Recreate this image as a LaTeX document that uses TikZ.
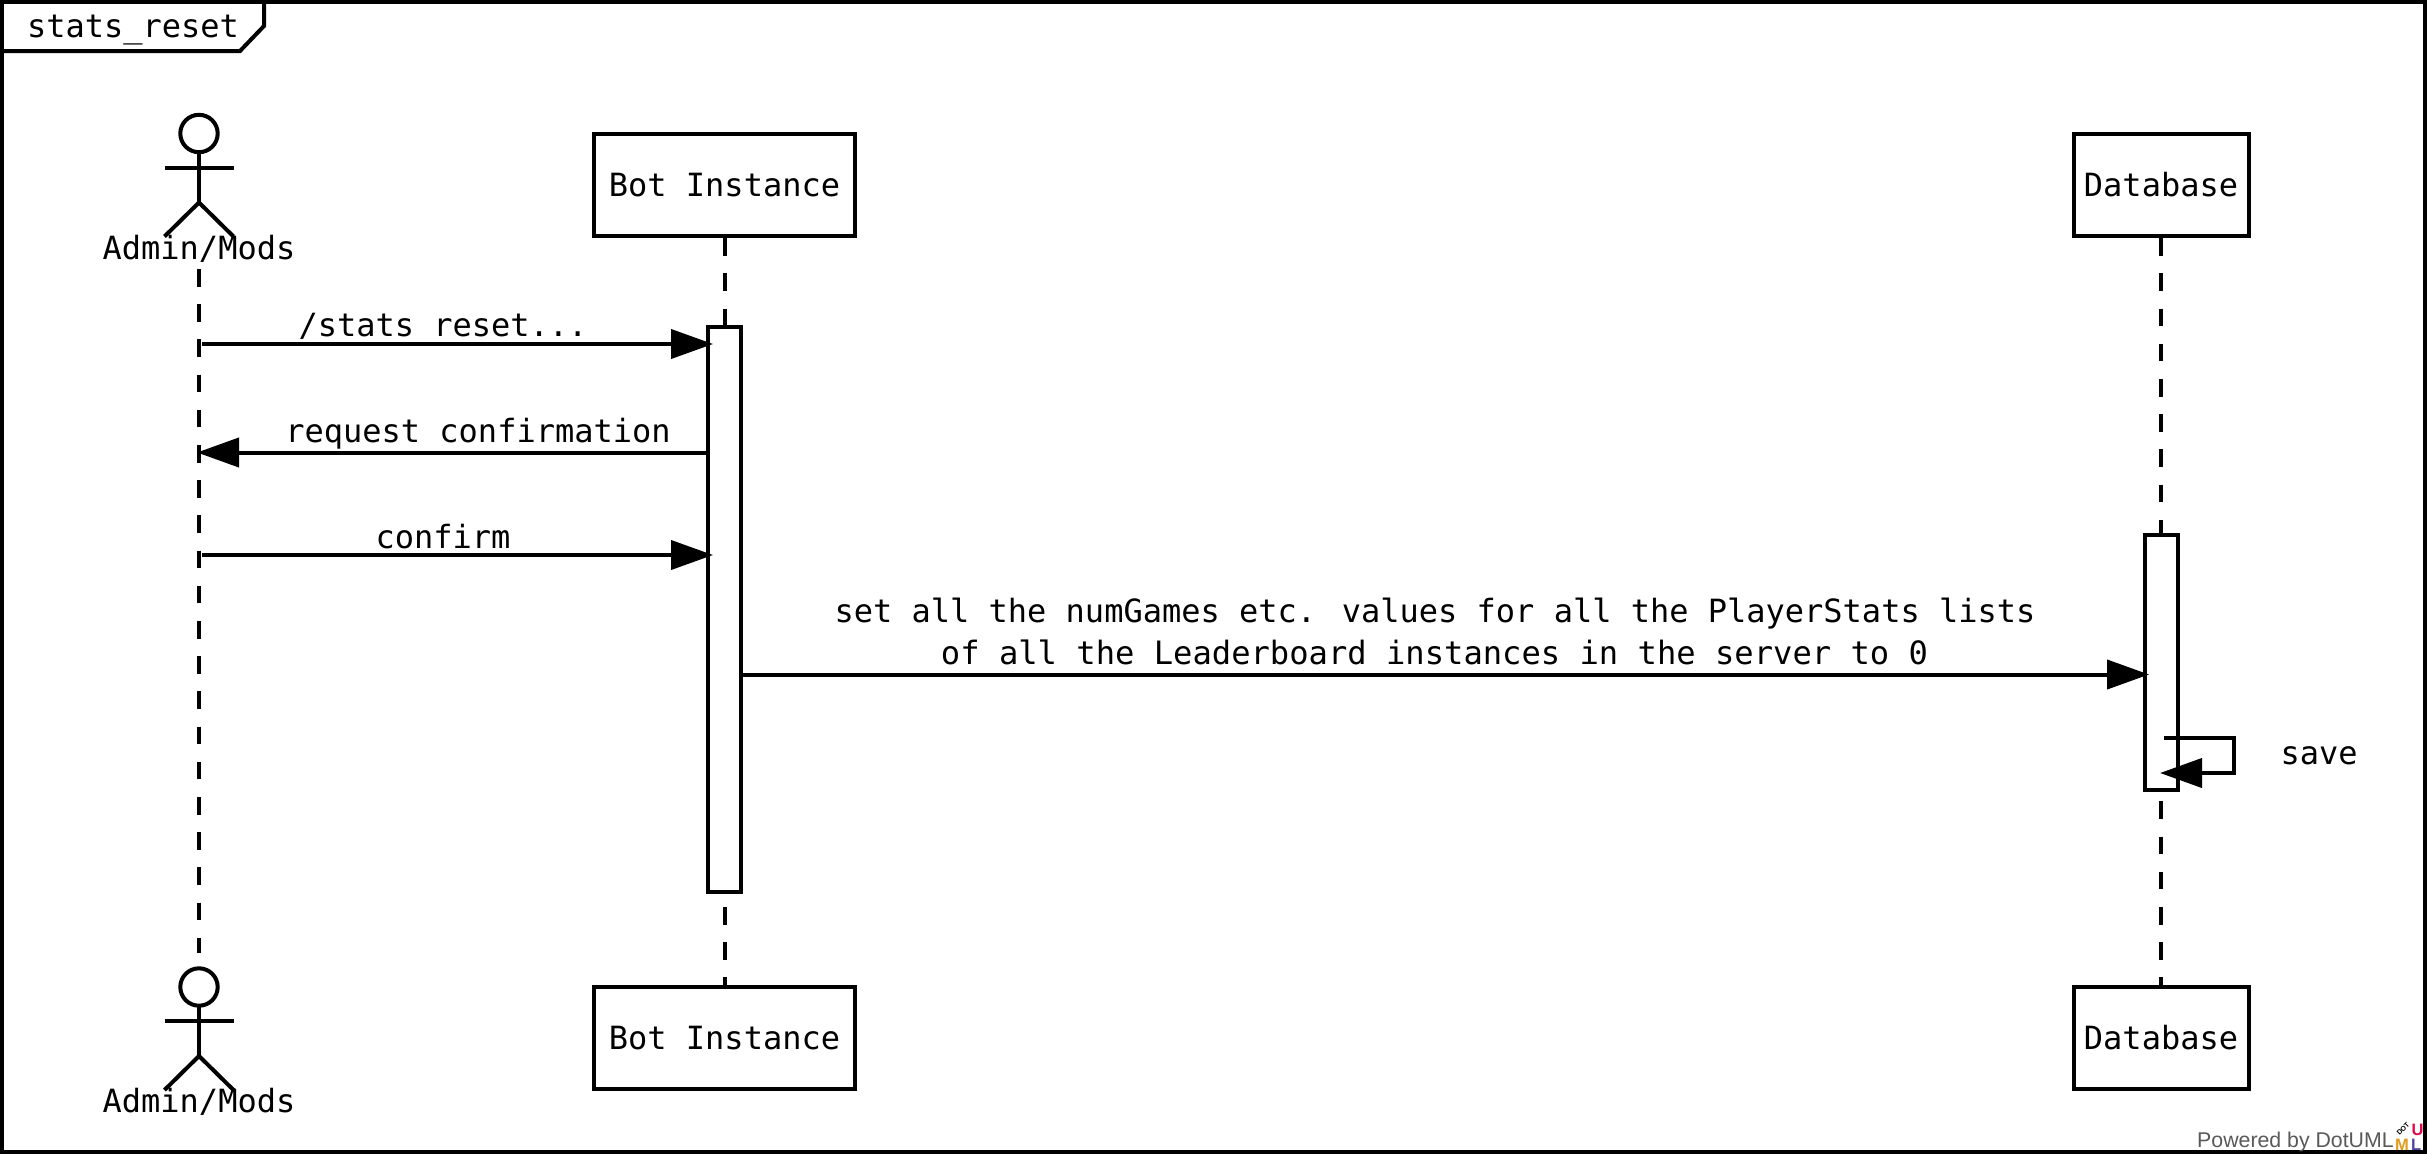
\documentclass[tikz,border=0pt]{standalone}
\usepackage{fontspec}
\setmainfont{DejaVu Sans Mono}
\newfontfamily\footfont{Liberation Sans}
\usetikzlibrary{arrows.meta,calc}
\tikzset{
 x=1pt,y=-1pt,
 ln/.style={line width=4pt,black,line cap=butt},
 box/.style={draw,ln,fill=white,inner sep=0pt,font=\fontsize{32}{40}\selectfont},
 act/.style={draw,ln,fill=white,inner sep=0pt,minimum width=33pt},
 lifeline/.style={ln,dash pattern=on 17.6pt off 17.6pt},
 msg/.style={ln,-{Triangle[length=42pt,width=29pt]}},
 lbl/.style={inner sep=0pt,anchor=base,font=\fontsize{32}{42}\selectfont,align=center},
 logo/.style={inner sep=0pt,anchor=base west,font=\footfont\bfseries\fontsize{16.5}{18}\selectfont},
}
\newcommand{\stick}[2]{%
 \draw[ln] (#1,#2) circle[radius=18.7];
 \draw[ln] (#1,#2+18.7) -- (#1,#2+69);
 \draw[ln] (#1-34.5,#2+34) -- (#1+34.5,#2+34);
 \draw[ln,line join=miter] (#1-34.5,#2+103) -- (#1,#2+69) -- (#1+34.5,#2+103);
}
\begin{document}
\begin{tikzpicture}
\useasboundingbox (0,0) rectangle (2427,1154);
\fill[white] (0,0) rectangle (2427,1154);
% participants
\node[box,minimum width=261pt,minimum height=102.5pt] (bot) at (724.5,185) {Bot Instance};
\node[box,minimum width=175pt,minimum height=102.5pt] (db) at (2161,185) {Database};
\node[box,minimum width=261pt,minimum height=102.5pt] (bot2) at (724.5,1038) {Bot Instance};
\node[box,minimum width=175pt,minimum height=102.5pt] (db2) at (2161,1038) {Database};
\coordinate (adminT) at (199,269);
\coordinate (adminB) at (199,953);
% lifelines
\draw[lifeline] (adminT) -- (adminB);
\draw[lifeline] (bot.south) -- (bot2.north);
\draw[lifeline] (db.south) -- (db2.north);
% activations
\node[act,minimum height=565pt] (botact) at (724.5,609.5) {};
\node[act,minimum height=255pt] (dbact) at (2161,662) {};
% actors
\stick{199}{133.5}
\stick{199}{987}
\node[lbl] (adminL) at (199,259) {Admin/Mods};
\node[lbl] (adminL2) at (199,1112.5) {Admin/Mods};
% messages
\coordinate (m1a) at (202,344); \coordinate (m1b) at (713,344);
\coordinate (m2a) at (708,452.5); \coordinate (m2b) at (197,452.5);
\coordinate (m3a) at (202,555); \coordinate (m3b) at (713,555);
\coordinate (m4a) at (740,674.5); \coordinate (m4b) at (2149,674.5);
\draw[msg] (m1a) -- (m1b);
\draw[msg] (m2a) -- (m2b);
\draw[msg] (m3a) -- (m3b);
\draw[msg] (m4a) -- (m4b);
\coordinate (s1) at (2164,737.5); \coordinate (s2) at (2234,737.5);
\coordinate (s3) at (2234,773); \coordinate (s4) at (2160,773);
\draw[msg,line join=miter] (s1) -- (s2) -- (s3) -- (s4);
\node[lbl] (t1) at (443,336) {/stats\_reset...};
\node[lbl] (t2) at (478,442.5) {request confirmation};
\node[lbl] (t3) at (443,548) {confirm};
\node[lbl] (t4a) at (1435,622) {set all the numGames etc. values for all the PlayerStats lists};
\node[lbl,font=\fontsize{32.15}{42}\selectfont] (t4b) at (1434.5,664) {of all the Leaderboard instances in the server to 0};
\node[lbl] (t5) at (2319,764) {save};
% frame
\draw[ln] (2,2) rectangle (2425,1152);
\node[lbl] (title) at (133,37) {stats\_reset};
\draw[ln,line join=miter] (264,2) -- (264,26) -- (240,51) -- (2,51);
% footer
\node[inner sep=0pt,anchor=base west,text=black!65,font=\footfont\fontsize{21.3}{24}\selectfont] (pw) at (2197,1147) {Powered by DotUML};
\node[inner sep=0pt,anchor=center,text=black,rotate=45,font=\footfont\bfseries\fontsize{7}{8}\selectfont] (ld) at (2403,1129) {DOT};
\node[logo,text={rgb,255:red,225;green,10;blue,70}] (lu) at (2411.5,1135) {U};
\node[logo,text={rgb,255:red,225;green,155;blue,30}] (lm) at (2395,1150) {M};
\node[logo,text={rgb,255:red,80;green,70;blue,160}] (ll) at (2411,1150) {L};
\end{tikzpicture}
\end{document}
